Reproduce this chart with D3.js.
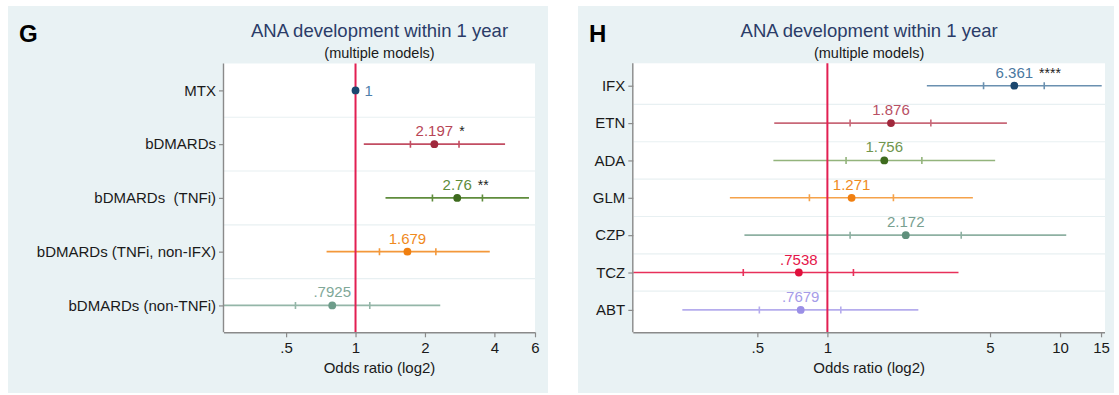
<!DOCTYPE html>
<html>
<head>
<meta charset="utf-8">
<script src="https://cdn.jsdelivr.net/npm/d3@7"></script>
<style>
    body { margin: 0; background: #fff; }
    svg { display: block; font-family: "Liberation Sans", Arial, Helvetica, sans-serif; }
</style>
</head>
<body>
<div id="grafico"></div>
<script>
// Painel G - dados
const categoriasG = ["MTX", "bDMARDs", "bDMARDs  (TNFi)", "bDMARDs (TNFi, non-IFX)", "bDMARDs (non-TNFi)"];
const oddsG = [1, 2.197, 2.76, 1.679, 0.7925];
const rotulosG = ["1", "2.197", "2.76", "1.679", ".7925"];
const estrelasG = ["", "*", "**", "", ""];
const ic95InfG = [null, 1.086, 1.349, 0.749, 0.25];
const ic95SupG = [null, 4.45, 5.65, 3.82, 2.33];
const icIntInfG = [null, 1.73, 2.155, 1.27, 0.549];
const icIntSupG = [null, 2.81, 3.55, 2.23, 1.153];
const ticksG = [0.5, 1, 2, 4, 6];
const ticksRotG = [".5", "1", "2", "4", "6"];

// Painel H - dados
const categoriasH = ["IFX", "ETN", "ADA", "GLM", "CZP", "TCZ", "ABT"];
const oddsH = [6.361, 1.876, 1.756, 1.271, 2.172, 0.7538, 0.7679];
const rotulosH = ["6.361", "1.876", "1.756", "1.271", "2.172", ".7538", ".7679"];
const estrelasH = ["****", "", "", "", "", "", ""];
const ic95InfH = [2.676, 0.591, 0.586, 0.381, 0.44, 0.14, 0.238];
const ic95SupH = [15.1, 5.91, 5.26, 4.22, 10.63, 3.66, 2.46];
const icIntInfH = [4.69, 1.252, 1.203, 0.837, 1.252, 0.435, 0.51];
const icIntSupH = [8.55, 2.784, 2.547, 1.922, 3.76, 1.294, 1.142];
const ticksH = [0.5, 1, 5, 10, 15];
const ticksRotH = [".5", "1", "5", "10", "15"];

// Cores (ponto, linha, rótulo)
const coresPontoG = ["#1a476f", "#a0283c", "#3e6b1e", "#f07f10", "#6d9c8a"];
const coresLinhaG = ["#1a476f", "#c24d62", "#5f8c3c", "#f3983a", "#94b6a8"];
const coresRotuloG = ["#4f7fab", "#b84556", "#5e8c3a", "#f08a1d", "#80a898"];
const coresPontoH = ["#1a476f", "#a0283c", "#3e6b1e", "#f07f10", "#5f907c", "#e0103c", "#9a8fe6"];
const coresLinhaH = ["#6a90b0", "#c86878", "#93b47c", "#f5a24a", "#8eb0a2", "#e8305a", "#b5aced"];
const coresRotuloH = ["#4a78a0", "#b85064", "#70964e", "#f08a1d", "#78a090", "#e5164a", "#a59ce8"];

const width = 1119;
const height = 395;

const svg = d3.select("#grafico")
    .append("svg")
    .attr("width", width)
    .attr("height", height);

function desenharPainel(p) {
    const g = svg.append("g");

    // fundo do painel
    g.append("rect")
        .attr("x", p.fundoX).attr("y", 6)
        .attr("width", p.fundoW).attr("height", 387)
        .attr("fill", "#e9f2f4");

    // área do gráfico
    g.append("rect")
        .attr("x", p.esq).attr("y", p.topo)
        .attr("width", p.dir - p.esq).attr("height", p.base - p.topo)
        .attr("fill", "#ffffff");

    const xScale = d3.scaleLog().base(2).domain(p.dominio).range([p.esq, p.dir]);
    const yScale = d3.scalePoint().domain(p.cats).range([p.topo, p.base]).padding(p.pad);
    const passo = yScale.step();

    // linhas de grade entre as linhas
    g.selectAll(".grade")
        .data(p.cats.slice(1))
        .enter().append("line")
        .attr("x1", p.esq).attr("x2", p.dir)
        .attr("y1", d => yScale(d) - passo / 2)
        .attr("y2", d => yScale(d) - passo / 2)
        .attr("stroke", "#e8f0f2")
        .attr("stroke-width", 1.2);

    const clipId = "clip" + p.letra;
    svg.append("clipPath").attr("id", clipId)
        .append("rect")
        .attr("x", p.esq).attr("y", p.topo)
        .attr("width", p.dir - p.esq).attr("height", p.base - p.topo);

    const dados = p.cats.map((c, i) => ({
        cat: c, or: p.odds[i], rot: p.rotulos[i], est: p.estrelas[i],
        lo: p.lo95[i], hi: p.hi95[i], li: p.loInt[i], hs: p.hiInt[i],
        corP: p.corPonto[i], corL: p.corLinha[i], corR: p.corRotulo[i]
    }));
    const comIC = dados.filter(d => d.lo !== null);

    const marcas = g.append("g").attr("clip-path", `url(#${clipId})`);

    // intervalos de confiança
    marcas.selectAll(".ic")
        .data(comIC)
        .enter().append("line")
        .attr("x1", d => xScale(d.lo))
        .attr("x2", d => xScale(d.hi))
        .attr("y1", d => yScale(d.cat))
        .attr("y2", d => yScale(d.cat))
        .attr("stroke", d => d.corL)
        .attr("stroke-width", 1.6);

    // marcas internas
    const internos = [];
    comIC.forEach(d => { internos.push({ v: d.li, d: d }); internos.push({ v: d.hs, d: d }); });
    marcas.selectAll(".tickInt")
        .data(internos)
        .enter().append("line")
        .attr("x1", e => xScale(e.v))
        .attr("x2", e => xScale(e.v))
        .attr("y1", e => yScale(e.d.cat) - 3.5)
        .attr("y2", e => yScale(e.d.cat) + 3.5)
        .attr("stroke", e => e.d.corL)
        .attr("stroke-width", 1.6);

    // linha de referência em 1
    g.append("line")
        .attr("x1", xScale(1)).attr("x2", xScale(1))
        .attr("y1", p.topo).attr("y2", p.base)
        .attr("stroke", "#e21f52")
        .attr("stroke-width", 2);

    // pontos
    g.selectAll(".ponto")
        .data(dados)
        .enter().append("circle")
        .attr("cx", d => xScale(d.or))
        .attr("cy", d => yScale(d.cat))
        .attr("r", 3.9)
        .attr("fill", d => d.corP);

    // rótulos dos valores
    dados.forEach(d => {
        const semIC = d.lo === null;
        const t = g.append("text")
            .attr("x", semIC ? xScale(d.or) + 9 : xScale(d.or))
            .attr("y", semIC ? yScale(d.cat) : yScale(d.cat) - 8)
            .attr("dy", semIC ? "0.36em" : 0)
            .attr("text-anchor", semIC ? "start" : "middle")
            .attr("font-size", 15)
            .attr("fill", d.corR)
            .text(d.rot);
        if (d.est) {
            const larg = t.node().getComputedTextLength();
            g.append("text")
                .attr("x", xScale(d.or) + larg / 2 + 6)
                .attr("y", yScale(d.cat) - 8)
                .attr("font-size", 14)
                .attr("fill", "#222")
                .text(d.est);
        }
    });

    // eixo x
    const eixoX = g.append("g")
        .attr("transform", `translate(0,${p.base})`)
        .call(d3.axisBottom(xScale)
            .tickValues(p.ticks)
            .tickFormat((d, i) => p.ticksRot[i])
            .tickSize(5)
            .tickSizeOuter(0)
            .tickPadding(5));
    eixoX.select(".domain").attr("stroke", "#8a8a8a").attr("stroke-width", 1.4)
        .attr("d", `M${p.esq},0.5H${p.dir}`);
    eixoX.selectAll(".tick line").attr("stroke", "#8a8a8a").attr("stroke-width", 1.2);
    eixoX.selectAll(".tick text").attr("font-size", 15).attr("fill", "#1a1a1a")
        .attr("font-family", null);

    // eixo y
    const eixoY = g.append("g")
        .attr("transform", `translate(${p.esq},0)`)
        .call(d3.axisLeft(yScale).tickSize(5).tickSizeOuter(0).tickPadding(3));
    eixoY.select(".domain").attr("stroke", "#8a8a8a").attr("stroke-width", 1.4)
        .attr("d", `M-0.5,${p.topo}V${p.base}`);
    eixoY.selectAll(".tick line").attr("stroke", "#8a8a8a").attr("stroke-width", 1.2);
    eixoY.selectAll(".tick text").attr("font-size", 15).attr("fill", "#1a1a1a")
        .attr("font-family", null).style("white-space", "pre");

    // títulos
    const centro = (p.esq + p.dir) / 2;
    g.append("text")
        .attr("x", centro).attr("y", 37)
        .attr("text-anchor", "middle")
        .attr("font-size", 18.5)
        .attr("fill", "#2b3c68")
        .text("ANA development within 1 year");
    g.append("text")
        .attr("x", centro).attr("y", 58)
        .attr("text-anchor", "middle")
        .attr("font-size", 14.5)
        .attr("fill", "#1a1a1a")
        .text("(multiple models)");
    g.append("text")
        .attr("x", centro).attr("y", 373)
        .attr("text-anchor", "middle")
        .attr("font-size", 15)
        .attr("fill", "#1a1a1a")
        .text("Odds ratio (log2)");
    g.append("text")
        .attr("x", p.fundoX + 11).attr("y", 42)
        .attr("font-size", 24)
        .attr("font-weight", "bold")
        .attr("fill", "#000")
        .text(p.letra);
}

desenharPainel({
    letra: "G", fundoX: 8, fundoW: 540,
    esq: 224, dir: 535, topo: 63.5, base: 332.3, pad: 0.5,
    dominio: [0.269, 6],
    cats: categoriasG, odds: oddsG, rotulos: rotulosG, estrelas: estrelasG,
    lo95: ic95InfG, hi95: ic95SupG, loInt: icIntInfG, hiInt: icIntSupG,
    corPonto: coresPontoG, corLinha: coresLinhaG, corRotulo: coresRotuloG,
    ticks: ticksG, ticksRot: ticksRotG
});

desenharPainel({
    letra: "H", fundoX: 578, fundoW: 536,
    esq: 633.3, dir: 1105, topo: 63.3, base: 332.3, pad: 0.6,
    dominio: [0.1465, 15.6],
    cats: categoriasH, odds: oddsH, rotulos: rotulosH, estrelas: estrelasH,
    lo95: ic95InfH, hi95: ic95SupH, loInt: icIntInfH, hiInt: icIntSupH,
    corPonto: coresPontoH, corLinha: coresLinhaH, corRotulo: coresRotuloH,
    ticks: ticksH, ticksRot: ticksRotH
});
</script>
</body>
</html>
